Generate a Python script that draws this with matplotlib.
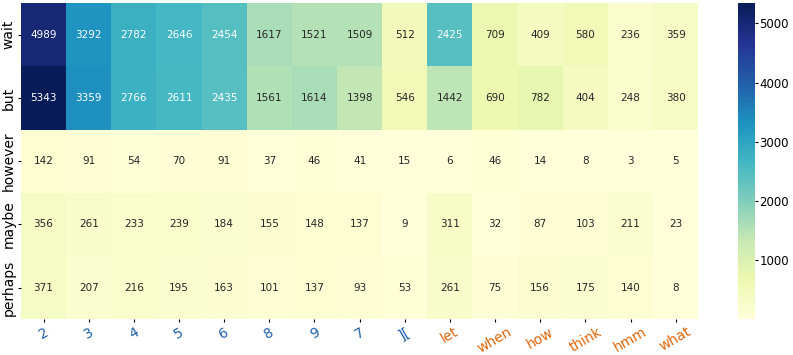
import numpy as np
import pandas as pd
import matplotlib
matplotlib.use('Agg')
import matplotlib.pyplot as plt
import seaborn as sns

rows = ['wait', 'but', 'however', 'maybe', 'perhaps']
cols = ['2', '3', '4', '5', '6', '8', '9', '7', '][', 'let', 'when', 'how', 'think', 'hmm', 'what']
n_blue = 9  # first columns are digit/symbol tokens, rest are words

wait = [4989, 3292, 2782, 2646, 2454, 1617, 1521, 1509, 512, 2425, 709, 409, 580, 236, 359]
but = [5343, 3359, 2766, 2611, 2435, 1561, 1614, 1398, 546, 1442, 690, 782, 404, 248, 380]
however = [142, 91, 54, 70, 91, 37, 46, 41, 15, 6, 46, 14, 8, 3, 5]
maybe = [356, 261, 233, 239, 184, 155, 148, 137, 9, 311, 32, 87, 103, 211, 23]
perhaps = [371, 207, 216, 195, 163, 101, 137, 93, 53, 261, 75, 156, 175, 140, 8]

data = pd.DataFrame([wait, but, however, maybe, perhaps], index=rows, columns=cols)

fig = plt.figure(figsize=(7.93, 3.55), dpi=100)
ax = fig.add_axes([0.0265, 0.101, 0.854, 0.890])
cax = fig.add_axes([0.931, 0.101, 0.0205, 0.890])

sns.heatmap(data, ax=ax, cbar_ax=cax, cmap='YlGnBu', annot=True, fmt='d',
            annot_kws={'fontsize': 7.5})

# white text on the darker cells
for t in ax.texts:
    t.set_color('white' if int(t.get_text()) >= 2000 else '#262626')

ax.set_yticklabels(rows, rotation=90, va='center', fontsize=10)
ax.set_xticklabels(cols, rotation=30, fontsize=10)
ax.tick_params(length=2.5, pad=1.5)
for i, lbl in enumerate(ax.get_xticklabels()):
    lbl.set_color('#1f5fa8' if i < n_blue else '#e0650a')

cax.set_yticks([1000, 2000, 3000, 4000, 5000])
cax.tick_params(labelsize=8.5, length=2.5, pad=1)

fig.savefig('out.png', dpi=100)
